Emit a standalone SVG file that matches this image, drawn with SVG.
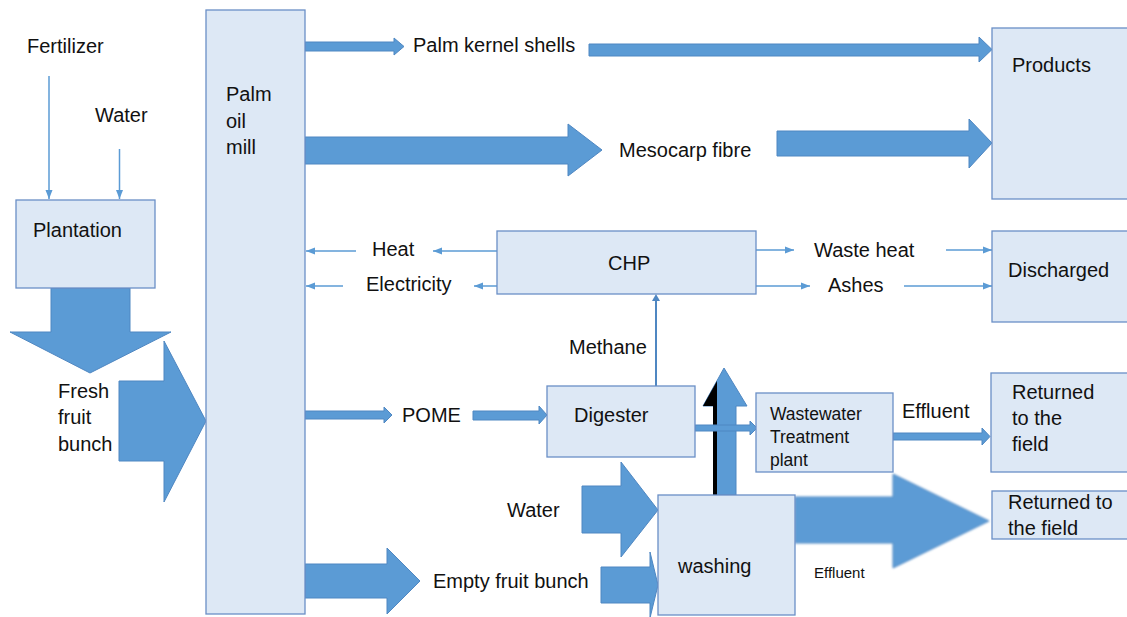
<svg xmlns="http://www.w3.org/2000/svg" width="1127" height="617" viewBox="0 0 1127 617">
<style>
.box{fill:#dde8f5;stroke:#6a8fc6;stroke-width:1.3}
.fat{fill:#5b9bd5;stroke:#4f87c2;stroke-width:1}
.thin{fill:none;stroke:#5b9bd5;stroke-width:1.5;marker-end:url(#ah)}
text{font-family:"Liberation Sans",Arial,sans-serif;font-size:20px;fill:#111}
.s18{font-size:17.5px}
.s15{font-size:15px}
</style>
<defs>
<marker id="ah" markerUnits="userSpaceOnUse" markerWidth="10" markerHeight="8" refX="9" refY="4" orient="auto">
<path d="M0,0.5 L9,4 L0,7.5 Z" fill="#5b9bd5"/>
</marker>
<filter id="soft" x="-5%" y="-5%" width="110%" height="110%"><feGaussianBlur stdDeviation="0.8"/></filter>
</defs>

<g id="connectors">
<line class="thin" x1="49" y1="76" x2="49" y2="199"/>
<line class="thin" x1="119.5" y1="149" x2="119.5" y2="199"/>
<polygon class="fat" points="51,288 130,288 130,332 171,332 90,373 10,332 51,332"/>
<polygon class="fat" points="119,381 164,381 164,341 206,421 164,502 164,461 119,461"/>
<polygon class="fat" points="305,42 394,42 394,38 404,46.5 394,55 394,51 305,51"/>
<polygon class="fat" points="589,44 979,44 979,37 992,49.5 979,62 979,56 589,56"/>
<polygon class="fat" points="305,137 568,137 568,124 602,150 568,176 568,164 305,164"/>
<polygon class="fat" points="777,131 969,131 969,119 992,143 969,168 969,156 777,156"/>
<line class="thin" x1="497" y1="251" x2="433" y2="251"/>
<line class="thin" x1="356" y1="251" x2="306" y2="251"/>
<line class="thin" x1="497" y1="286" x2="474" y2="286"/>
<line class="thin" x1="343" y1="286" x2="306" y2="286"/>
<line class="thin" x1="756" y1="250" x2="794" y2="250"/>
<line class="thin" x1="946" y1="250" x2="992" y2="250"/>
<line class="thin" x1="756" y1="286" x2="810" y2="286"/>
<line class="thin" x1="904" y1="286" x2="992" y2="286"/>
<line x1="656" y1="386" x2="656" y2="300" stroke="#4f87c2" stroke-width="2"/>
<path d="M652,301 L656,294 L660,301 Z" fill="#4f87c2"/>
<polygon class="fat" points="305,411 384,411 384,407 392,415 384,423 384,419 305,419"/>
<polygon class="fat" points="473,411 539,411 539,406 547,415 539,424 539,420 473,420"/>
<polygon class="fat" points="716,495 716,406 703,406 724,368 747,406 736,406 736,495"/>
<polygon points="713,495 713,406 703,406 717,381 717,495" fill="#000"/>
<polygon class="fat" points="695,425 750,425 750,421 757,428 750,435 750,431 695,431"/>
<polygon class="fat" points="893,433 982,433 982,428 990,436.5 982,445 982,440 893,440"/>
<polygon class="fat" points="795,497 893,497 893,474 989,521 893,568 893,543 795,543" filter="url(#soft)"/>
<polygon class="fat" points="582,486 621,486 621,462 658,510 621,557 621,533 582,533"/>
<polygon class="fat" points="305,564 387,564 387,548 420,581 387,614 387,598 305,598"/>
<polygon class="fat" points="601,567 650,567 650,552 658,585 650,618 650,603 601,603"/>
</g>

<g id="labels">
<text x="27" y="53">Fertilizer</text>
<text x="95" y="122">Water</text>
<text x="58" y="398">Fresh</text>
<text x="58" y="424">fruit</text>
<text x="58" y="451">bunch</text>
<text x="413" y="52">Palm kernel shells</text>
<text x="619" y="157">Mesocarp fibre</text>
<text x="372" y="256">Heat</text>
<text x="366" y="291">Electricity</text>
<text x="814" y="257">Waste heat</text>
<text x="828" y="292">Ashes</text>
<text x="569" y="354">Methane</text>
<text x="402" y="422">POME</text>
<text x="902" y="418">Effluent</text>
<text x="507" y="517">Water</text>
<text x="433" y="588">Empty fruit bunch</text>
<text class="s15" x="814" y="578">Effluent</text>
</g>

<g id="plantation">
<rect class="box" x="16" y="200" width="139" height="88"/>
<text x="33" y="237">Plantation</text>
</g>

<g id="palm-oil-mill">
<rect class="box" x="206" y="10" width="99" height="604"/>
<text x="226" y="101">Palm</text>
<text x="226" y="128">oil</text>
<text x="226" y="154">mill</text>
</g>

<g id="chp">
<rect class="box" x="497" y="231" width="259" height="63"/>
<text x="608" y="270">CHP</text>
</g>

<g id="digester">
<rect class="box" x="547" y="386" width="148" height="71"/>
<text x="574" y="422">Digester</text>
</g>

<g id="wwtp">
<rect class="box" x="756" y="393" width="137" height="79"/>
<text class="s18" x="770" y="420">Wastewater</text>
<text class="s18" x="770" y="443">Treatment</text>
<text class="s18" x="770" y="466">plant</text>
</g>

<g id="washing">
<rect class="box" x="658" y="495" width="137" height="120"/>
<text x="678" y="573">washing</text>
</g>

<g id="products">
<rect class="box" x="992" y="28" width="150" height="171"/>
<text x="1012" y="72">Products</text>
</g>

<g id="discharged">
<rect class="box" x="992" y="231" width="150" height="91"/>
<text x="1008" y="277">Discharged</text>
</g>

<g id="returned1">
<rect class="box" x="991" y="373" width="150" height="99"/>
<text x="1012" y="399">Returned</text>
<text x="1012" y="425">to the</text>
<text x="1012" y="451">field</text>
</g>

<g id="returned2">
<rect class="box" x="992" y="491" width="150" height="48"/>
<text x="1008" y="509">Returned to</text>
<text x="1008" y="535">the field</text>
</g>
</svg>
